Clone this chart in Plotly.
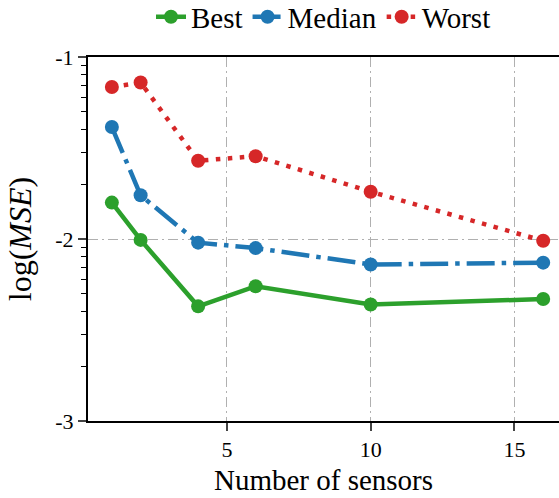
import plotly.graph_objects as go

sensors = [1, 2, 4, 6, 10, 16]
best_log = [-1.80, -2.005, -2.37, -2.26, -2.36, -2.33]
median_log = [-1.385, -1.76, -2.02, -2.05, -2.14, -2.13]
worst_log = [-1.165, -1.14, -1.57, -1.545, -1.74, -2.01]
ytick_labels = ["-1", "-2", "-3"]
xtick_vals = [5, 10, 15]

series = [
    ("Best", best_log, "#2ca02c", "solid"),
    ("Median", median_log, "#1f77b4", "28px,7px,4.5px,7px"),
    ("Worst", worst_log, "#d62728", "4.5px,7.5px"),
]

fig = go.Figure()
for name, vals, color, dash in series:
    fig.add_trace(go.Scatter(
        x=sensors, y=[10 ** v for v in vals], name=name, mode="lines+markers",
        line=dict(color=color, width=4.5, dash=dash),
        marker=dict(color=color, size=14),
        cliponaxis=False,
    ))

minor_vals = [m * 10 ** e for e in (-3, -2) for m in range(2, 10)]
FAM = "Liberation Serif, Times New Roman, serif"
def f(size):
    return dict(family=FAM, size=size, color="black")

grid = dict(showgrid=True, gridcolor="#b0b0b0", gridwidth=1.3, griddash="10px,4px,2px,4px")

fig.update_layout(
    width=559, height=498,
    margin=dict(l=88, r=0, t=57, b=77, autoexpand=False),
    paper_bgcolor="white", plot_bgcolor="white",
    font=f(22),
    showlegend=True,
    legend=dict(orientation="h", x=0.5, xanchor="center", y=1.11, yanchor="middle",
                font=f(29), bgcolor="rgba(0,0,0,0)", tracegroupgap=0,
                itemwidth=30),
    xaxis=dict(range=[0.17, 16.55], tickvals=xtick_vals, ticks="outside", ticklen=8,
               tickwidth=1.5, showline=True, linecolor="black", linewidth=2, mirror=True,
               zeroline=False, tickfont=f(22),
               title=dict(text="Number of sensors", font=f(29), standoff=8),
               **grid),
    yaxis=dict(type="log", range=[-3, -1], tickvals=[0.1, 0.01, 0.001], ticktext=ytick_labels,
               ticks="outside", ticklen=8, tickwidth=1.5, showline=True, linecolor="black",
               linewidth=2, zeroline=False, tickfont=f(22),
               minor=dict(tickvals=minor_vals, ticks="outside", ticklen=5, tickwidth=1.3,
                          tickcolor="black", showgrid=False),
               title=dict(text="log(<i>MSE</i>)", font=f(32), standoff=14),
               **grid),
)

post = """
document.body.style.margin='0';
document.body.style.overflow='hidden';
"""

fig.write_html("out.html", config={"displayModeBar": False}, post_script=post)
